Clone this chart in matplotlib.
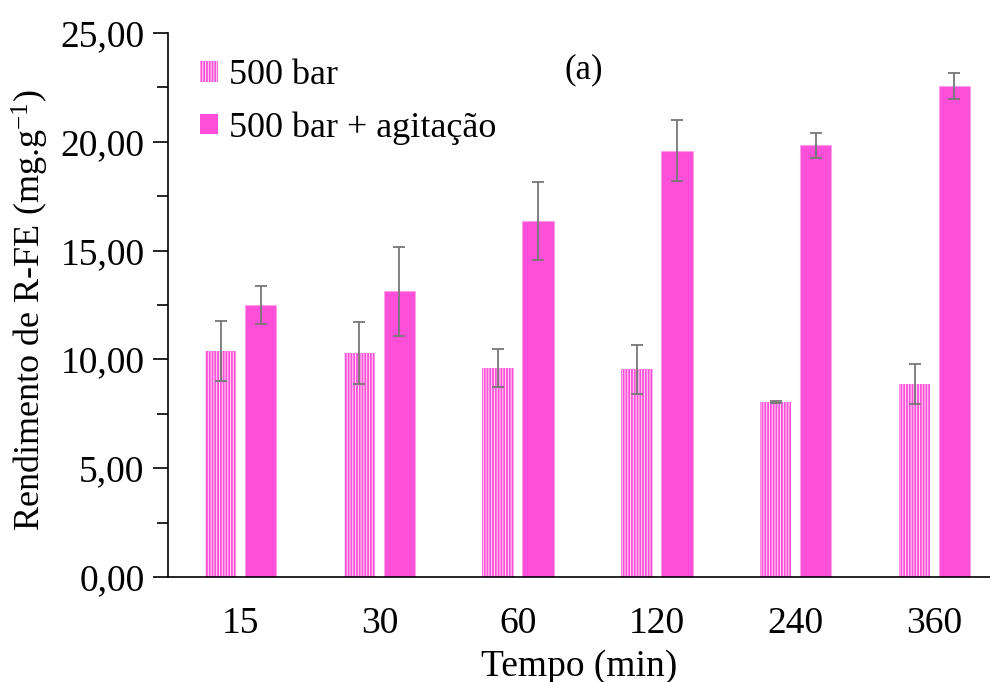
import matplotlib
matplotlib.use("Agg")
import matplotlib.pyplot as plt
import numpy as np
from matplotlib.ticker import MultipleLocator, FuncFormatter
from matplotlib.patches import Patch

plt.rcParams['font.family'] = ['Liberation Serif', 'DejaVu Serif']
plt.rcParams['mathtext.default'] = 'regular'
plt.rcParams['hatch.linewidth'] = 1.3

# Data
tempos = ['15', '30', '60', '120', '240', '360']
rend_500 = [10.39, 10.28, 9.60, 9.54, 8.04, 8.88]
err_500 = [1.37, 1.42, 0.88, 1.12, 0.05, 0.93]
rend_agit = [12.49, 13.13, 16.37, 19.59, 19.84, 22.58]
err_agit = [0.88, 2.05, 1.80, 1.41, 0.58, 0.60]

pink = '#ff4fd8'
light_pink = '#ffe0f8'
err_color = '#777777'

fig = plt.figure(figsize=(9.9, 6.82), dpi=100)
ax = fig.add_axes([0.1697, 0.154, 0.8303, 0.7976])

x = np.arange(len(tempos))
w = 0.227
off = 0.144

ax.bar(x - off, rend_500, width=w, facecolor=light_pink, edgecolor=pink,
       linewidth=0, hatch='||||||', zorder=2)
ax.bar(x + off, rend_agit, width=w, facecolor=pink, edgecolor='#ff9ee9',
       linewidth=0.8, zorder=2)

ek = dict(fmt='none', ecolor=err_color, elinewidth=1.3, capsize=4,
          capthick=1.3, zorder=3)
ax.errorbar(x - off, rend_500, yerr=err_500, **ek)
ax.errorbar(x + off, rend_agit, yerr=err_agit, **ek)

ax.set_xlim(-0.523, 5.40)
ax.set_ylim(0, 25)
ax.set_xticks(x)
ax.set_xticklabels(tempos)
ax.yaxis.set_major_locator(MultipleLocator(5))
ax.yaxis.set_minor_locator(MultipleLocator(2.5))
ax.yaxis.set_major_formatter(FuncFormatter(lambda v, p: f"{v:.2f}".replace('.', ',')))

ax.tick_params(axis='y', which='major', direction='out', length=11, width=1.2,
               labelsize=27, pad=6)
ax.tick_params(axis='y', which='minor', direction='out', length=8, width=1.2)
ax.tick_params(axis='x', which='both', length=0, labelsize=27, pad=21)

for s in ('top', 'right'):
    ax.spines[s].set_visible(False)
for s in ('left', 'bottom'):
    ax.spines[s].set_linewidth(1.2)

ax.set_ylabel('Rendimento de R-FE (mg.g$^{-1}$)', fontsize=26)
ax.yaxis.set_label_coords(-0.142, 0.49)
ax.set_xlabel('Tempo (min)', fontsize=27, labelpad=6)

ax.text(0.506, 0.932, '(a)', transform=ax.transAxes, fontsize=25,
        ha='center', va='center')

handles = [Patch(facecolor=light_pink, edgecolor=pink, linewidth=0, hatch='||||||'),
           Patch(facecolor=pink, edgecolor=pink, linewidth=0)]
ax.legend(handles, ['500 bar', '500 bar + agitação'], loc='upper left',
          bbox_to_anchor=(0.0214, 0.978), frameon=False, fontsize=26,
          handlelength=0.5, handleheight=0.5, handletextpad=0.3,
          labelspacing=0.52, borderaxespad=0)

fig.savefig('out.png', dpi=100)
